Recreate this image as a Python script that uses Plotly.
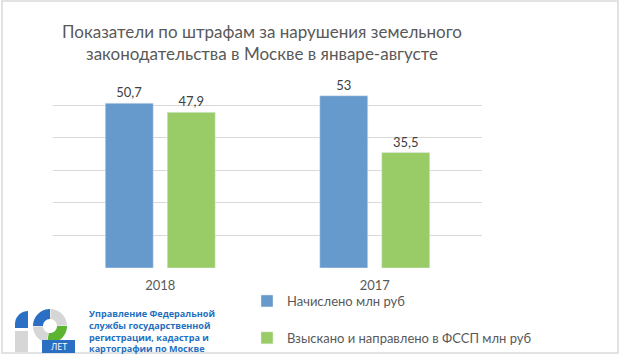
import math
import plotly.graph_objects as go

categories = ["2018", "2017"]
series_names = ["Начислено млн руб", "Взыскано и направлено в ФССП млн руб"]
accrued = [50.7, 53]
collected = [47.9, 35.5]
y_ticks = [0, 10, 20, 30, 40, 50, 60]
title_text = "Показатели по штрафам за нарушения земельного<br>законодательства в Москве в январе-августе"
logo_text = "Управление Федеральной<br>службы государственной<br>регистрации, кадастра и<br>картографии по Москве"

W, H = 620, 356
ML, MR, MT, MB = 53, 138, 72, 88
PW, PH = W - ML - MR, H - MT - MB
FONT = "Lato"


def px(x):
    return (x - ML) / PW


def py(y):
    return (H - MB - y) / PH


def poly_path(pts):
    return "M " + " L ".join(f"{px(x):.5f},{py(y):.5f}" for x, y in pts) + " Z"


def ring(cx, cy, r1, r2, a0, a1, n=24):
    pts = []
    for i in range(n + 1):
        a = math.radians(a0 + (a1 - a0) * i / n)
        pts.append((cx + r2 * math.cos(a), cy + r2 * math.sin(a)))
    for i in range(n, -1, -1):
        a = math.radians(a0 + (a1 - a0) * i / n)
        pts.append((cx + r1 * math.cos(a), cy + r1 * math.sin(a)))
    return pts


BLUE = "#6699CC"
GREEN = "#99CC66"
LOGO_BLUE = "#1f6fc0"

fig = go.Figure()
fig.add_trace(go.Bar(x=categories, y=accrued, name=series_names[0], marker_color=BLUE,
                     texttemplate="%{y}", textposition="outside",
                     textfont=dict(family=FONT, size=13, color="#404040"), cliponaxis=False,
                     legendgroup="a"))
fig.add_trace(go.Bar(x=categories, y=collected, name=series_names[1], marker_color=GREEN,
                     texttemplate="%{y}", textposition="outside",
                     textfont=dict(family=FONT, size=13, color="#404040"), cliponaxis=False,
                     legendgroup="b"))

shapes = []
shapes.append(dict(type="rect", xref="paper", yref="paper", x0=px(2), x1=px(618), y0=py(353), y1=py(1),
                   line=dict(color="#d9d9d9", width=1.5), fillcolor="rgba(0,0,0,0)", layer="below"))
shapes.append(dict(type="path", xref="paper", yref="paper",
                   path=poly_path([(15, 328)] + [(28 - 13 * math.cos(math.radians(t)), 324 - 13 * math.sin(math.radians(t))) for t in range(0, 91, 10)] + [(28, 328)]),
                   fillcolor="#2a6fc4", line=dict(width=0)))
shapes.append(dict(type="rect", xref="paper", yref="paper", x0=px(15), x1=px(28), y0=py(352), y1=py(331),
                   fillcolor="#d6d6d6", line=dict(width=0)))
shapes.append(dict(type="path", xref="paper", yref="paper", path=poly_path(ring(50, 326, 7, 17, 180, 270)),
                   fillcolor="#2a6fc4", line=dict(width=0)))
shapes.append(dict(type="path", xref="paper", yref="paper", path=poly_path(ring(50, 326, 7, 17, 272, 358)),
                   fillcolor="#d6d6d6", line=dict(width=0)))
shapes.append(dict(type="path", xref="paper", yref="paper", path=poly_path(ring(50, 326, 7, 17, 0, 100)),
                   fillcolor="#5cb531", line=dict(width=0)))
shapes.append(dict(type="path", xref="paper", yref="paper", path=poly_path(ring(50, 326, 7, 17, 102, 178)),
                   fillcolor="#d6d6d6", line=dict(width=0)))
shapes.append(dict(type="rect", xref="paper", yref="paper", x0=px(42), x1=px(75), y0=py(353), y1=py(340),
                   fillcolor="#2a6fc4", line=dict(width=0)))

annotations = [
    dict(text="ЛЕТ", xref="paper", yref="paper", x=px(58.5), y=py(346.5), showarrow=False,
         font=dict(family="Open Sans", size=9, color="white"), xanchor="center", yanchor="middle"),
    dict(text=logo_text, xref="paper", yref="paper", x=px(86.5), y=py(304.5), showarrow=False,
         xanchor="left", yanchor="top", align="left",
         font=dict(family="Open Sans", size=9.1, color=LOGO_BLUE, weight="bold")),
]

fig.update_layout(
    width=W, height=H,
    margin=dict(l=ML, r=MR, t=MT, b=MB, autoexpand=False),
    paper_bgcolor="white", plot_bgcolor="white",
    separators=", ",
    title=dict(text=title_text, x=262 / W, xanchor="center", y=1 - 37.5 / H, yanchor="top",
               font=dict(family=FONT, size=17, color="#595959")),
    barmode="group", bargap=0.422, bargroupgap=0.226,
    xaxis=dict(type="category", showline=False, ticks="", ticklabelstandoff=8,
               tickfont=dict(family=FONT, size=13, color="#595959")),
    yaxis=dict(range=[0, 60.3], tickvals=y_ticks, showticklabels=False, gridcolor="#d9d9d9",
               gridwidth=1, zeroline=False, showline=False),
    legend=dict(xref="container", yref="container", x=247 / W, y=1 - 286 / H,
                xanchor="left", yanchor="top", tracegroupgap=17,
                font=dict(family=FONT, size=13, color="#595959"),
                itemwidth=30, bgcolor="rgba(0,0,0,0)"),
    shapes=shapes, annotations=annotations,
    showlegend=True,
)

fig.write_html("out.html", config={"displayModeBar": False},
               post_script="document.body.style.margin='0';")
